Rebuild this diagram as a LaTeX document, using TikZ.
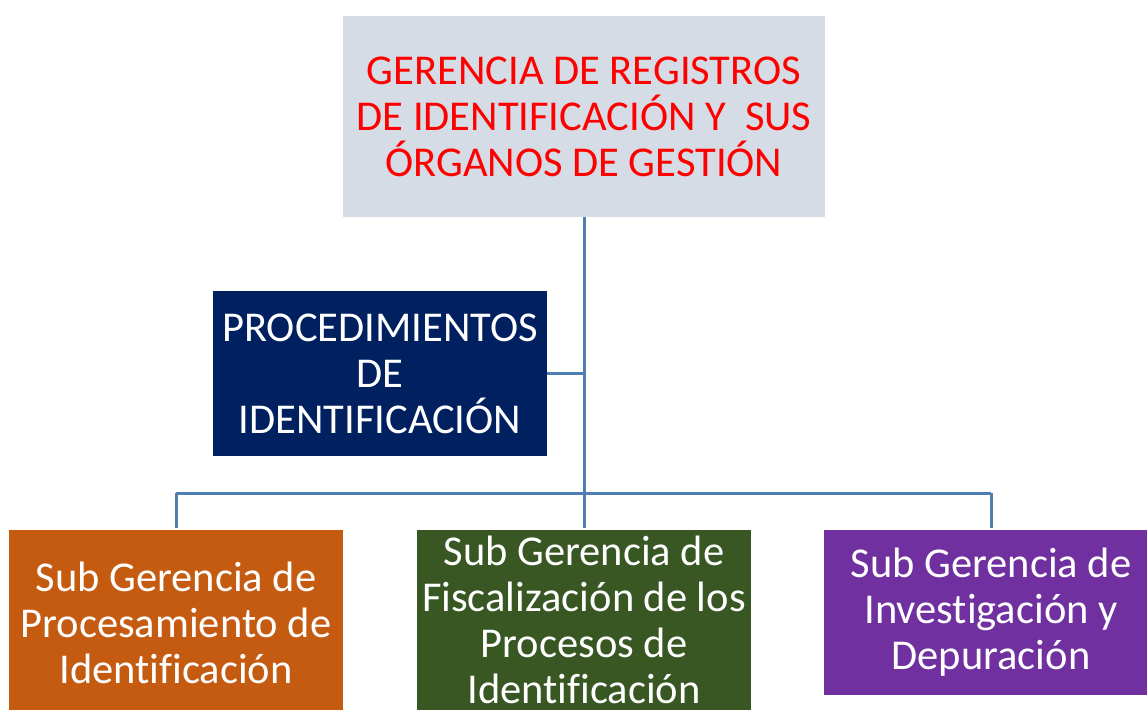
\documentclass[tikz,border=0pt]{standalone}
\usepackage{fontspec}
\setmainfont[Ligatures=NoCommon]{Carlito}
\definecolor{topfill}{HTML}{D6DCE5}
\definecolor{navy}{HTML}{002060}
\definecolor{orng}{HTML}{C55A11}
\definecolor{grn}{HTML}{385723}
\definecolor{purp}{HTML}{7030A0}
\definecolor{lnk}{HTML}{4E7FB0}
\begin{document}
\begin{tikzpicture}[x=1pt,y=1pt,
  box/.style={inner sep=0pt, align=center, font=\fontsize{42.5}{46}\selectfont, text=white, minimum width=334pt},
  link/.style={draw=lnk, line width=3pt}]
\useasboundingbox (0,0) rectangle (1147,-709);
\clip (0,0) rectangle (1147,-709);
\node[box, fill=topfill, text=red, minimum width=482pt, minimum height=201pt] (top) at (584,-116.5)
  {GERENCIA DE REGISTROS\\DE IDENTIFICACIÓN Y~ SUS\\ÓRGANOS DE GESTIÓN};
\node[box, fill=navy, minimum height=165pt] (proc) at (380,-373.5)
  {PROCEDIMIENTOS\\DE\\IDENTIFICACIÓN};
\node[box, fill=orng, minimum height=186pt] (lft) at (176,-623)
  {Sub Gerencia de\\Procesamiento de\\Identificación};
\node[box, fill=grn, minimum height=180pt] (mid) at (584,-620)
  {Sub Gerencia de\\Fiscalización de los\\Procesos de\\Identificación};
\node[box, fill=purp, minimum height=165pt] (rgt) at (991,-612.5)
  {Sub Gerencia de\\Investigación y\\Depuración};
\coordinate (bus) at (584,-493);
\draw[link] (top.south) -- (bus);
\draw[link] (proc.east) -- (proc.east -| top.south);
\draw[link] (lft.north |- bus) -- (rgt.north |- bus);
\draw[link, shorten >=2pt] (lft.north |- bus) -- (lft.north);
\draw[link, shorten >=2pt] (bus) -- (mid.north);
\draw[link, shorten >=2pt] (rgt.north |- bus) -- (rgt.north);
\end{tikzpicture}
\end{document}
